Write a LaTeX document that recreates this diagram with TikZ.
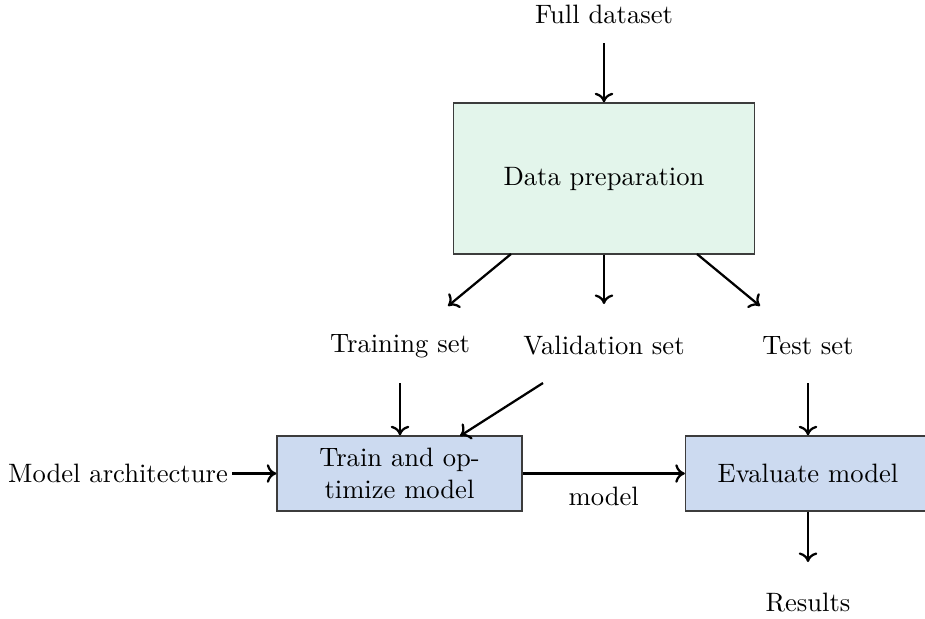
\documentclass[tikz,border=0pt]{standalone}
\usetikzlibrary{arrows.meta}
\definecolor{prepgreen}{RGB}{227,245,235}
\definecolor{stepblue}{RGB}{204,218,240}
\definecolor{boxline}{RGB}{60,60,60}
\begin{document}
\begin{tikzpicture}[x=0.376pt,y=-0.376pt,
  lbl/.style={inner sep=1pt, font=\normalsize},
  prepbox/.style={draw=boxline, fill=prepgreen, line width=0.5pt, minimum width=301*0.376pt, minimum height=151*0.376pt, inner sep=0pt},
  stepbox/.style={draw=boxline, fill=stepblue, line width=0.5pt, minimum width=245*0.376pt, minimum height=75*0.376pt, inner sep=0pt, align=center},
  arr/.style={-{To[length=3.6pt,width=7pt]}, line width=0.85pt}]
\useasboundingbox (0,0) rectangle (925,619);
\clip (0,0) rectangle (925,619);
% texts
\node[lbl] (full) at (604,14) {Full dataset};
\node[prepbox] (prep) at (604,178.5) {Data preparation};
\node[lbl] (train) at (400,346) {Training set};
\node[lbl] (val) at (604,346) {Validation set};
\node[lbl] (test) at (808,346) {Test set};
\node[stepbox] (tm) at (399.5,473.5) {Train and op-\\timize model};
\node[stepbox] (ev) at (808,473.5) {Evaluate model};
\node[lbl] (arch) at (118,473) {Model architecture};
\node[lbl] (res) at (808,603) {Results};
% coordinates
\coordinate (fullS) at (604,43);
\coordinate (pl) at (511,254);
\coordinate (pr) at (697,254);
\coordinate (plE) at (448,306);
\coordinate (pmE) at (604,304);
\coordinate (prE) at (760,306);
\coordinate (trS) at (400,383);
\coordinate (vaS) at (543,383);
\coordinate (vaE) at (460,436);
\coordinate (teS) at (808,383);
\coordinate (arS) at (232,473.5);
\coordinate (reE) at (808,562);
% connectors
\draw[arr] (fullS) -- (prep.north);
\draw[arr] (pl) -- (plE);
\draw[arr] (prep.south) -- (pmE);
\draw[arr] (pr) -- (prE);
\draw[arr] (trS) -- (tm.north -| trS);
\draw[arr] (vaS) -- (vaE);
\draw[arr] (teS) -- (ev.north);
\draw[arr] (arS) -- (tm.west);
\draw[arr] (tm.east) -- node[lbl, below=3.5pt] (mlbl) {model} (ev.west);
\draw[arr] (ev.south) -- (reE);
\end{tikzpicture}
\end{document}
